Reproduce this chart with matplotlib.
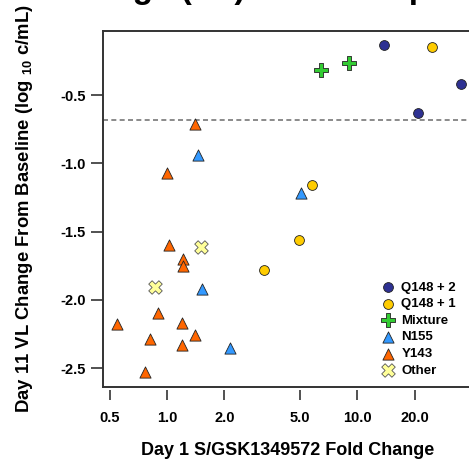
import numpy as np
import matplotlib
matplotlib.use("Agg")
import matplotlib.pyplot as plt
from matplotlib.lines import Line2D

plt.rcParams['font.family'] = ['Liberation Sans', 'DejaVu Sans']
plt.rcParams['font.weight'] = 'bold'
plt.rcParams['mathtext.fontset'] = 'custom'
plt.rcParams['mathtext.rm'] = 'Liberation Sans:bold'
plt.rcParams['mathtext.bf'] = 'Liberation Sans:bold'

# data
q148_2_x = [13.8, 35.0, 20.9]
q148_2_y = [-0.13, -0.42, -0.63]
q148_1_x = [24.6, 5.75, 4.94, 3.24]
q148_1_y = [-0.15, -1.16, -1.56, -1.78]
mixture_x = [6.44, 9.07]
mixture_y = [-0.315, -0.264]
n155_x = [1.45, 5.06, 1.53, 2.13]
n155_y = [-0.94, -1.22, -1.92, -2.35]
y143_x = [1.41, 1.00, 1.02, 1.21, 1.21, 0.90, 0.544, 1.20, 1.41, 0.814, 1.20, 0.764]
y143_y = [-0.71, -1.07, -1.60, -1.70, -1.75, -2.10, -2.175, -2.17, -2.26, -2.285, -2.33, -2.53]
other_x = [1.50, 0.865]
other_y = [-1.61, -1.91]

threshold = -0.68
xticks = [0.5, 1.0, 2.0, 5.0, 10.0, 20.0]
yticks = [-0.5, -1.0, -1.5, -2.0, -2.5]

W, H = 469, 461
fig = plt.figure(figsize=(W / 100, H / 100), dpi=100)
ax = fig.add_axes([103 / W, 74 / H, 370 / W, 356 / H])

edge = '#222222'
ax.axhline(threshold, color='#777777', ls=(0, (3, 2)), lw=1.2, zorder=1)

ax.scatter(q148_2_x, q148_2_y, marker='o', s=50, c='#2E3192', edgecolors=edge, linewidths=0.6, zorder=3, label='Q148 + 2')
ax.scatter(q148_1_x, q148_1_y, marker='o', s=50, c='#FFCC00', edgecolors=edge, linewidths=0.6, zorder=3, label='Q148 + 1')
ax.scatter(mixture_x, mixture_y, marker='P', s=110, c='#33CC33', edgecolors=edge, linewidths=0.6, zorder=3, label='Mixture')
ax.scatter(n155_x, n155_y, marker='^', s=65, c='#3399FF', edgecolors=edge, linewidths=0.6, zorder=3, label='N155')
ax.scatter(y143_x, y143_y, marker='^', s=65, c='#FF6600', edgecolors=edge, linewidths=0.6, zorder=3, label='Y143')
ax.scatter(other_x, other_y, marker='X', s=95, c='#FFFF99', edgecolors='#555555', linewidths=0.6, zorder=3, label='Other')

ax.set_xscale('log')
ax.set_xlim(0.461, 40.5)
ax.set_ylim(-2.639, -0.031)
ax.set_xticks(xticks)
ax.set_xticklabels([f"{v:.1f}" for v in xticks])
ax.minorticks_off()
ax.set_yticks(yticks)
ax.set_yticklabels([f"{v:.1f}" for v in yticks])

for s in ['top', 'left', 'right']:
    ax.spines[s].set_color('#333333')
    ax.spines[s].set_linewidth(1.4)
ax.spines['bottom'].set_position(('outward', 2))
ax.spines['bottom'].set_visible(False)
ax.add_line(Line2D([0, 1], [0, 0], transform=ax.transAxes, color='#333333', lw=1.4, clip_on=False))

ax.tick_params(axis='x', length=7.2, width=1.2, color='#333333', pad=8, labelsize=10.5)
ax.tick_params(axis='y', length=8.6, width=1.2, color='#333333', pad=4, labelsize=10.5)

ax.set_xlabel('Day 1 S/GSK1349572 Fold Change', fontsize=13, fontweight='bold', labelpad=12)
ax.set_ylabel(r'Day 11 VL Change From Baseline (log $_{10}$ c/mL)', fontsize=13.3, fontweight='bold', labelpad=18)

leg = ax.legend(loc='upper left', bbox_to_anchor=(0.735, 0.315), frameon=False, fontsize=9.5,
                handlelength=1.0, handletextpad=0.5, labelspacing=0.33, borderpad=0, scatterpoints=1)
for t in leg.get_texts():
    t.set_fontweight('bold')

fig.text(288 / W, 1.0 + 2 / H, 'Change (VL) vs. Susceptibility', ha='center', va='baseline',
         fontsize=24, fontweight='bold')

fig.savefig('out.png', dpi=100)
